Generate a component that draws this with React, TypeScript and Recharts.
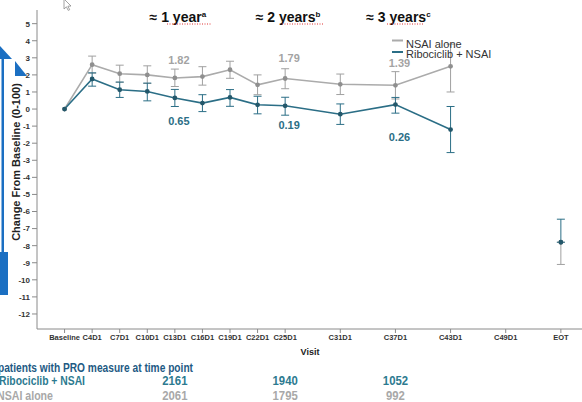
import React from 'react';
import { LineChart, Line, XAxis, YAxis, ErrorBar, LabelList } from 'recharts';

// Visit schedule (cycle number used for spacing on the x axis)
const visits = ['Baseline', 'C4D1', 'C7D1', 'C10D1', 'C13D1', 'C16D1', 'C19D1', 'C22D1', 'C25D1', 'C31D1', 'C37D1', 'C43D1', 'C49D1', 'EOT'];
const cycleNumbers = [1, 4, 7, 10, 13, 16, 19, 22, 25, 31, 37, 43, 49, 55];

// Mean change from baseline, NSAI alone
const nsaiAlone = [0, 2.6, 2.07, 2.0, 1.82, 1.9, 2.3, 1.42, 1.79, 1.45, 1.39, 2.5, null, -7.8];
const nsaiAloneErrDown = [null, 0.5, 0.5, 0.5, 0.5, 0.5, 0.5, 0.58, 0.6, 0.6, 0.8, 1.5, null, 1.3];
const nsaiAloneErrUp = [null, 0.5, 0.5, 0.53, 0.52, 0.58, 0.5, 0.58, 0.57, 0.6, 0.8, 1.3, null, 0];

// Mean change from baseline, ribociclib + NSAI
const ribociclib = [0, 1.76, 1.13, 1.03, 0.65, 0.35, 0.68, 0.25, 0.19, -0.3, 0.26, -1.2, null, -7.8];
const ribociclibErrDown = [null, 0.42, 0.45, 0.55, 0.5, 0.5, 0.52, 0.53, 0.55, 0.6, 0.5, 1.35, null, 0];
const ribociclibErrUp = [null, 0.36, 0.45, 0.49, 0.5, 0.49, 0.46, 0.5, 0.5, 0.6, 0.42, 1.35, null, 1.35];

const yTicks = [5, 4, 3, 2, 1, 0, -1, -2, -3, -4, -5, -6, -7, -8, -9, -10, -11, -12];

// Time-point headlines and patient counts
const milestoneLabels = ['≈ 1 year', '≈ 2 years', '≈ 3 years'];
const milestoneNotes = ['a', 'b', 'c'];
const milestoneVisits = ['C13D1', 'C25D1', 'C37D1'];
const countsRibociclib = [2161, 1940, 1052];
const countsNsai = [2061, 1795, 992];

const seriesNames = { nsai: 'NSAI alone', ribo: 'Ribociclib + NSAI' };

const GRAY = '#ababab';
const TEAL = '#2b6e86';
const FONT = '"Liberation Sans", Arial, Helvetica, sans-serif';

const data = visits.map((v, i) => ({
  visit: v,
  cycle: cycleNumbers[i],
  nsai: nsaiAlone[i],
  nsaiErr: nsaiAloneErrDown[i] == null ? null : [nsaiAloneErrDown[i], nsaiAloneErrUp[i]],
  ribo: ribociclib[i],
  riboErr: ribociclibErrDown[i] == null ? null : [ribociclibErrDown[i], ribociclibErrUp[i]],
}));

const X_DOMAIN: [number, number] = [-2, 57.3];
const Y_DOMAIN: [number, number] = [-12.88, 5.8];
const W = 582;
const H = 402;
const PLOT_LEFT = 37;
const PLOT_TOP = 10;
const PLOT_BOTTOM = 329;

const xPix = (cycle: number) =>
  PLOT_LEFT + ((cycle - X_DOMAIN[0]) / (X_DOMAIN[1] - X_DOMAIN[0])) * (W - PLOT_LEFT);

const visitToCycle = (name: string) => cycleNumbers[visits.indexOf(name)];

// label offsets for the highlighted time points
const grayLabelOffset: Record<number, number> = { 4: -18, 8: -20.5, 10: -22 };
const tealLabelOffset: Record<number, number> = { 4: 23.5, 8: 19, 10: 32 };

const makeValueLabel = (offsets: Record<number, number>, color: string, weight: number) => (props: any) => {
  const { x, y, value, index } = props;
  if (offsets[index] === undefined || value == null) return null;
  return (
    <text
      x={x + 4}
      y={y + offsets[index]}
      textAnchor="middle"
      dominantBaseline="central"
      fontFamily={FONT}
      fontSize={11}
      fontWeight={weight}
      fill={color}
    >
      {Number(value).toFixed(2)}
    </text>
  );
};

const tickFormatter = (c: number) => visits[cycleNumbers.indexOf(c)] ?? '';

export default function App() {
  return (
    <div style={{ position: 'absolute', left: 0, top: 0, width: W, height: H, background: '#fff', overflow: 'hidden' }}>
      <LineChart
        width={W}
        height={H}
        data={data}
        margin={{ top: PLOT_TOP, right: 0, left: 0, bottom: H - PLOT_BOTTOM - 30 }}
      >
        <XAxis
          type="number"
          dataKey="cycle"
          domain={X_DOMAIN}
          allowDataOverflow
          ticks={cycleNumbers}
          interval={0}
          tickFormatter={tickFormatter}
          height={30}
          tickSize={4}
          tickMargin={2}
          stroke="#8a8a8a"
          tick={{ fontSize: 7.5, fontWeight: 700, fill: '#333', fontFamily: FONT }}
        />
        <YAxis
          type="number"
          domain={Y_DOMAIN}
          allowDataOverflow
          ticks={yTicks}
          interval={0}
          width={PLOT_LEFT}
          tickSize={5}
          tickMargin={2}
          stroke="#8a8a8a"
          tick={{ fontSize: 8, fontWeight: 700, fill: '#333', fontFamily: FONT }}
        />
        <Line
          dataKey="nsai"
          stroke={GRAY}
          strokeWidth={1.6}
          dot={{ r: 1.6, fill: '#8f8f8f', stroke: '#8f8f8f' }}
          isAnimationActive={false}
          connectNulls={false}
        >
          <ErrorBar dataKey="nsaiErr" direction="y" width={4} stroke="#a0a0a0" strokeWidth={1} />
          <LabelList dataKey="nsai" content={makeValueLabel(grayLabelOffset, '#a3a3a3', 600)} />
        </Line>
        <Line
          dataKey="ribo"
          stroke={TEAL}
          strokeWidth={1.6}
          dot={{ r: 1.6, fill: '#24586b', stroke: '#24586b' }}
          isAnimationActive={false}
          connectNulls={false}
        >
          <ErrorBar dataKey="riboErr" direction="y" width={4} stroke={TEAL} strokeWidth={1} />
          <LabelList dataKey="ribo" content={makeValueLabel(tealLabelOffset, TEAL, 700)} />
        </Line>
      </LineChart>

      <svg
        width={W}
        height={H}
        style={{ position: 'absolute', left: 0, top: 0, pointerEvents: 'none' }}
        fontFamily={FONT}
      >
        {/* blue up-arrow at the left edge */}
        <polygon points="0,46 12,59 0,59" fill="#1b6fc2" />
        <rect x={1.5} y={58} width={2.5} height={196} fill="#1b6fc2" />
        <rect x={0} y={252} width={8} height={43} fill="#1b6fc2" />
        <polygon points="15,61 27,76 15,76" fill="#1b6fc2" />

        {/* pointer */}
        <path d="M64,-1 L64,9 L66.4,6.8 L68.2,10.4 L69.7,9.7 L67.9,6.2 L71,6 Z" fill="#fff" stroke="#8a8a8a" strokeWidth={0.8} />

        {/* time-point headlines */}
        {milestoneLabels.map((t, i) => {
          const cx = xPix(visitToCycle(milestoneVisits[i]));
          return (
            <g key={t}>
              <text x={cx + 3} y={22} textAnchor="middle" fontSize={14} fontWeight={700} fill="#111">
                {t}
                <tspan fontSize={8} dy={-5}>{milestoneNotes[i]}</tspan>
              </text>
            </g>
          );
        })}
        <line x1={167} y1={24} x2={212} y2={24} stroke="#e03030" strokeWidth={1} strokeDasharray="1 1.5" />
        <line x1={282} y1={24} x2={323} y2={24} stroke="#e03030" strokeWidth={1} strokeDasharray="1 1.5" />
        <line x1={387} y1={24} x2={423} y2={24} stroke="#e03030" strokeWidth={1} strokeDasharray="1 1.5" />

        {/* legend */}
        <line x1={392} y1={40.5} x2={403} y2={40.5} stroke={GRAY} strokeWidth={2} />
        <text x={406} y={48} fontSize={11} fill="#333">{seriesNames.nsai}</text>
        <line x1={392} y1={52} x2={403} y2={52} stroke={TEAL} strokeWidth={2} />
        <text x={406} y={58} fontSize={11} fill="#333">{seriesNames.ribo}</text>

        {/* axis titles */}
        <text
          x={16}
          y={162}
          transform="rotate(-90 16 162)"
          textAnchor="middle"
          dominantBaseline="central"
          fontSize={11}
          fontWeight={700}
          fill="#222"
        >
          Change From Baseline (0-100)
        </text>
        <text x={310} y={355} textAnchor="middle" fontSize={9} fontWeight={700} fill="#222">Visit</text>

        {/* patient counts table */}
        <text x={-2} y={372} fontSize={12.5} fontWeight={700} fill="#1e5a84" textLength={195} lengthAdjust="spacingAndGlyphs">
          patients with PRO measure at time point
        </text>
        <text x={-1} y={385} fontSize={12.5} fontWeight={700} fill="#2c7a90" textLength={86} lengthAdjust="spacingAndGlyphs">
          {seriesNames.ribo}
        </text>
        <text x={-3} y={400} fontSize={12.5} fontWeight={600} fill="#a8a8a8" textLength={56} lengthAdjust="spacingAndGlyphs">
          {seriesNames.nsai}
        </text>
        {milestoneVisits.map((v, i) => {
          const cx = xPix(visitToCycle(v));
          const wr = String(countsRibociclib[i]).length * 6.3;
          const wn = String(countsNsai[i]).length * 6.3;
          return (
            <g key={v}>
              <text x={cx - wr / 2} y={385} fontSize={12.5} fontWeight={700} fill="#2c7a90" textLength={wr} lengthAdjust="spacingAndGlyphs">
                {countsRibociclib[i]}
              </text>
              <text x={cx - wn / 2} y={400} fontSize={12.5} fontWeight={600} fill="#a8a8a8" textLength={wn} lengthAdjust="spacingAndGlyphs">
                {countsNsai[i]}
              </text>
            </g>
          );
        })}
      </svg>
    </div>
  );
}
